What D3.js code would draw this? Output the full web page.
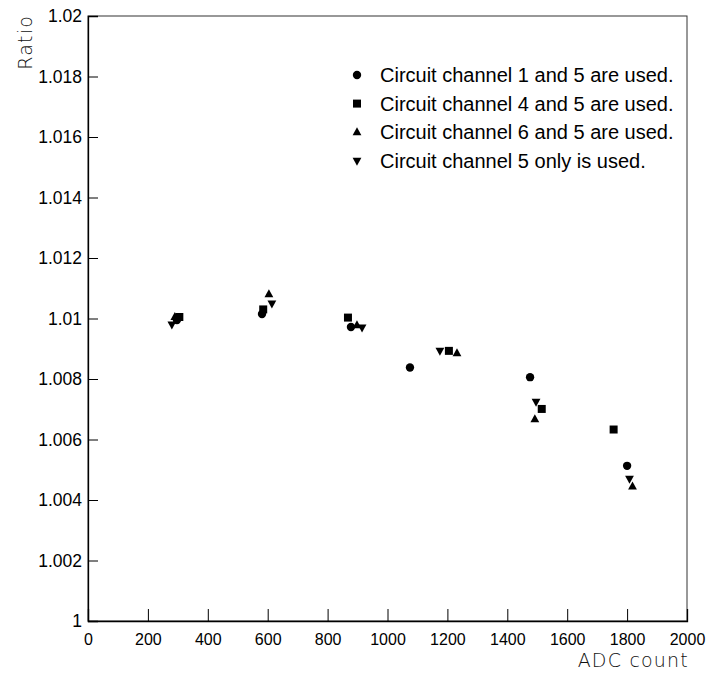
<!DOCTYPE html>
<html>
<head>
<meta charset="utf-8">
<script src="https://cdn.jsdelivr.net/npm/d3@7"></script>
<style>
  html, body { margin: 0; padding: 0; background: #fff; }
  svg { display: block; }
</style>
</head>
<body>
<svg id="chart" width="713" height="673"></svg>
<script>
// Ratio vs ADC count for four circuit channel configurations
const seriesNames = [
  "Circuit channel 1 and 5 are used.",
  "Circuit channel 4 and 5 are used.",
  "Circuit channel 6 and 5 are used.",
  "Circuit channel 5 only is used."
];
const seriesSymbols = ["circle", "square", "triangle", "triangleDown"];

const ch15X = [297, 581, 878, 1075, 1476, 1800];
const ch15Y = [1.00995, 1.01015, 1.00972, 1.00838, 1.00806, 1.00513];

const ch45X = [305, 585, 868, 1205, 1515, 1755];
const ch45Y = [1.01005, 1.01030, 1.01003, 1.00893, 1.00701, 1.00633];

const ch65X = [290, 604, 898, 1232, 1492, 1818];
const ch65Y = [1.01005, 1.01080, 1.00978, 1.00885, 1.00667, 1.00445];

const ch5X = [280, 614, 915, 1175, 1496, 1808];
const ch5Y = [1.00980, 1.01050, 1.00970, 1.00893, 1.00725, 1.00470];

const xTicks = [0, 200, 400, 600, 800, 1000, 1200, 1400, 1600, 1800, 2000];
const yTicks = [1, 1.002, 1.004, 1.006, 1.008, 1.01, 1.012, 1.014, 1.016, 1.018, 1.02];

const seriesX = [ch15X, ch45X, ch65X, ch5X];
const seriesY = [ch15Y, ch45Y, ch65Y, ch5Y];

const svg = d3.select("#chart");
const plotLeft = 88, plotRight = 687, plotTop = 16, plotBottom = 621;

const x = d3.scaleLinear().domain([0, 2000]).range([plotLeft, plotRight]);
const y = d3.scaleLinear().domain([1, 1.02]).range([plotBottom, plotTop]);

// frame
svg.append("rect")
  .attr("x", plotLeft).attr("y", plotTop)
  .attr("width", plotRight - plotLeft).attr("height", plotBottom - plotTop)
  .attr("fill", "none").attr("stroke", "#333").attr("stroke-width", 1);

const font = "'Liberation Sans', Arial, Helvetica, sans-serif";

// x axis: ticks point up into the plot
const xAxis = d3.axisBottom(x).tickValues(xTicks).tickSize(-12).tickPadding(13)
  .tickFormat(d3.format("d"));
const gx = svg.append("g").attr("transform", `translate(0,${plotBottom})`).call(xAxis);
gx.select(".domain").attr("stroke", "#000").attr("stroke-width", 1.3);
gx.selectAll(".tick line").attr("stroke", "#000");
gx.selectAll("text").attr("font-family", font).attr("font-size", 16).attr("fill", "#000");

// y axis: ticks point right into the plot
const yAxis = d3.axisLeft(y).tickValues(yTicks).tickSize(-10).tickPadding(6)
  .tickFormat(d => d === 1 ? "1" : d3.format(".3~f")(d));
const gy = svg.append("g").attr("transform", `translate(${plotLeft},0)`).call(yAxis);
gy.select(".domain").attr("stroke", "#000").attr("stroke-width", 1.3);
gy.selectAll(".tick line").attr("stroke", "#000");
gy.selectAll("text").attr("font-family", font).attr("font-size", 17.5).attr("fill", "#000");

// axis titles
const titleFont = "'DejaVu Sans', sans-serif";
svg.append("text")
  .attr("transform", "translate(32,15) rotate(-90)")
  .attr("text-anchor", "end")
  .attr("font-family", titleFont).attr("font-weight", 200)
  .attr("font-size", 19).attr("letter-spacing", 1.2).attr("fill", "#111")
  .text("Ratio");
svg.append("text")
  .attr("x", 689).attr("y", 667)
  .attr("text-anchor", "end")
  .attr("font-family", titleFont).attr("font-weight", 200)
  .attr("font-size", 19).attr("letter-spacing", 1.2).attr("fill", "#111")
  .text("ADC count");

// marker shapes
function symbolPath(kind) {
  switch (kind) {
    case "circle": return d3.symbol().type(d3.symbolCircle).size(55)();
    case "square": return d3.symbol().type(d3.symbolSquare).size(64)();
    case "triangle": return "M0,-5L4.4,3L-4.4,3Z";
    case "triangleDown": return "M0,5L4.4,-3L-4.4,-3Z";
  }
}

seriesSymbols.forEach((sym, i) => {
  const pts = seriesX[i].map((v, j) => [v, seriesY[i][j]]);
  svg.append("g").selectAll("path").data(pts).join("path")
    .attr("d", symbolPath(sym))
    .attr("transform", d => `translate(${x(d[0])},${y(d[1])})`)
    .attr("fill", "#000");
});

// legend
const legend = svg.append("g");
seriesNames.forEach((name, i) => {
  const ly = 75 + i * 28.6;
  legend.append("path")
    .attr("d", symbolPath(seriesSymbols[i]))
    .attr("transform", `translate(357,${ly})`)
    .attr("fill", "#000");
  legend.append("text")
    .attr("x", 380).attr("y", ly + 7)
    .attr("font-family", font).attr("font-size", 20).attr("fill", "#000")
    .text(name);
});
</script>
</body>
</html>
